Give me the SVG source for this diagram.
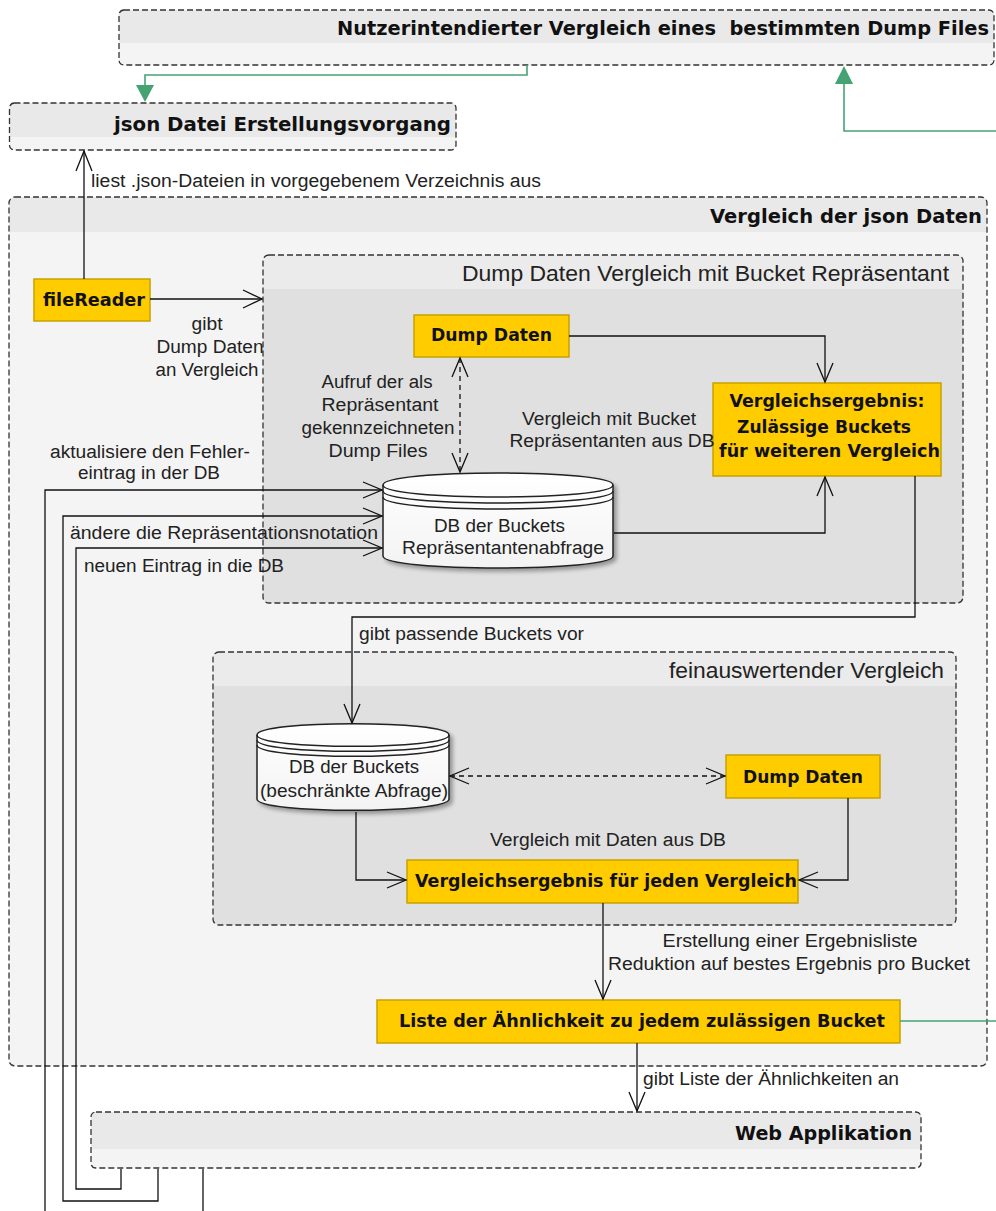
<svg xmlns="http://www.w3.org/2000/svg" width="996" height="1211" viewBox="0 0 996 1211">
<defs>
<style>
.grp{fill:none;stroke:#333;stroke-width:1.3;stroke-dasharray:6 3}
.bodyO{fill:#f4f4f4}
.bandO{fill:#e9e9e9}
.bodyI{fill:#e0e0e0}
.bandI{fill:#ebebeb}
.ttl{font-family:"DejaVu Sans",Verdana,sans-serif;font-weight:bold;font-size:19px;fill:#111}
.gt{font-family:"Liberation Sans",Arial,sans-serif;font-size:22px;fill:#222}
.yb{fill:#ffcc00;stroke:#c9a100;stroke-width:1.5}
.yt{font-family:"DejaVu Sans",Verdana,sans-serif;font-weight:bold;font-size:17.5px;fill:#111;text-anchor:middle}
.lb{font-family:"Liberation Sans",Arial,sans-serif;font-size:18px;fill:#222}
.mid{text-anchor:middle}
.ln{fill:none;stroke:#111;stroke-width:1.3}
.dash{stroke-dasharray:5 4}
.gr{fill:none;stroke:#45a373;stroke-width:1.6}
.grh{fill:#45a373}
.cyl{fill:url(#cg);stroke:#222;stroke-width:1.5}
.cl{fill:none;stroke:#222;stroke-width:1.5}
</style>
<linearGradient id="cg" x1="0" y1="0" x2="0" y2="1">
<stop offset="0" stop-color="#ffffff"/>
<stop offset="1" stop-color="#f3f3f3"/>
</linearGradient>
<filter id="sh" x="-10%" y="-10%" width="130%" height="140%">
<feGaussianBlur in="SourceAlpha" stdDeviation="2"/>
<feOffset dx="3" dy="3" result="o"/>
<feComponentTransfer><feFuncA type="linear" slope="0.35"/></feComponentTransfer>
<feMerge><feMergeNode/><feMergeNode in="SourceGraphic"/></feMerge>
</filter>
</defs>

<g id="node-nutzer">
<rect x="119" y="10" width="875" height="55" rx="5" class="bodyO"/>
<path d="M124,10 H989 Q994,10 994,15 V43 H119 V15 Q119,10 124,10 Z" class="bandO"/>
<rect x="119" y="10" width="875" height="55" rx="5" class="grp"/>
<text x="337" y="35" class="ttl" textLength="652" lengthAdjust="spacingAndGlyphs" xml:space="preserve">Nutzerintendierter Vergleich eines  bestimmten Dump Files</text>
</g>

<g id="node-json">
<rect x="9.5" y="103" width="446.5" height="47" rx="5" class="bodyO"/>
<path d="M14.5,103 H451 Q456,103 456,108 V137 H9.5 V108 Q9.5,103 14.5,103 Z" class="bandO"/>
<rect x="9.5" y="103" width="446.5" height="47" rx="5" class="grp"/>
<text x="114" y="131" class="ttl" textLength="337" lengthAdjust="spacingAndGlyphs">json Datei Erstellungsvorgang</text>
</g>

<g id="node-vergleich">
<rect x="9" y="197" width="978" height="869" rx="6" class="bodyO"/>
<path d="M15,197 H981 Q987,197 987,203 V232 H9 V203 Q9,197 15,197 Z" class="bandO"/>
<rect x="9" y="197" width="978" height="869" rx="6" class="grp"/>
<text x="710" y="223" class="ttl" textLength="272" lengthAdjust="spacingAndGlyphs">Vergleich der json Daten</text>
</g>

<g id="node-dumpvergleich">
<rect x="263" y="255" width="700" height="348" rx="6" class="bodyI"/>
<path d="M269,255 H957 Q963,255 963,261 V289 H263 V261 Q263,255 269,255 Z" class="bandI"/>
<rect x="263" y="255" width="700" height="348" rx="6" class="grp"/>
<text x="462" y="281" class="gt" textLength="487" lengthAdjust="spacingAndGlyphs">Dump Daten Vergleich mit Bucket Repräsentant</text>
</g>

<g id="node-fein">
<rect x="213" y="652" width="743" height="273" rx="6" class="bodyI"/>
<path d="M219,652 H950 Q956,652 956,658 V686 H213 V658 Q213,652 219,652 Z" class="bandI"/>
<rect x="213" y="652" width="743" height="273" rx="6" class="grp"/>
<text x="669" y="678" class="gt" textLength="275" lengthAdjust="spacingAndGlyphs">feinauswertender Vergleich</text>
</g>

<g id="node-web">
<rect x="91" y="1112" width="830" height="56" rx="5" class="bodyO"/>
<path d="M96,1112 H916 Q921,1112 921,1117 V1149 H91 V1117 Q91,1112 96,1112 Z" class="bandO"/>
<rect x="91" y="1112" width="830" height="56" rx="5" class="grp"/>
<text x="735" y="1140" class="ttl" textLength="177" lengthAdjust="spacingAndGlyphs">Web Applikation</text>
</g>

<g id="node-filereader">
<rect x="34" y="279" width="116" height="42" class="yb"/>
<text x="94" y="306" class="yt" textLength="102" lengthAdjust="spacingAndGlyphs">fileReader</text>
</g>

<g id="node-dump1">
<rect x="414" y="315" width="155" height="42" class="yb"/>
<text x="491.5" y="341" class="yt" textLength="121" lengthAdjust="spacingAndGlyphs">Dump Daten</text>
</g>

<g id="node-ergebnis1">
<rect x="713" y="383" width="228" height="93" class="yb"/>
<text x="827" y="407" class="yt" textLength="195" lengthAdjust="spacingAndGlyphs">Vergleichsergebnis:</text>
<text x="824" y="433" class="yt" textLength="174" lengthAdjust="spacingAndGlyphs">Zulässige Buckets</text>
<text x="829.5" y="457" class="yt" textLength="221" lengthAdjust="spacingAndGlyphs">für weiteren Vergleich</text>
</g>

<g id="node-db1" filter="url(#sh)">
<path d="M383,485 C383,469 613,469 613,485 V556 C613,572 383,572 383,556 Z" class="cyl"/>
<path d="M383,485 C383,501 613,501 613,485" class="cl"/>
<path d="M383,491 C383,507 613,507 613,491" class="cl"/>
<path d="M383,497 C383,513 613,513 613,497" class="cl"/>
</g>
<g id="node-db1-text">
<text x="499.5" y="532" class="lb mid" textLength="131" lengthAdjust="spacingAndGlyphs">DB der Buckets</text>
<text x="503" y="554" class="lb mid" textLength="202" lengthAdjust="spacingAndGlyphs">Repräsentantenabfrage</text>
</g>

<g id="node-db2" filter="url(#sh)">
<path d="M257,735 C257,720 449,720 449,735 V799 C449,814 257,814 257,799 Z" class="cyl"/>
<path d="M257,735 C257,750 449,750 449,735" class="cl"/>
<path d="M257,740 C257,755 449,755 449,740" class="cl"/>
<path d="M257,745 C257,760 449,760 449,745" class="cl"/>
</g>
<g id="node-db2-text">
<text x="354" y="773" class="lb mid" textLength="130" lengthAdjust="spacingAndGlyphs">DB der Buckets</text>
<text x="354" y="797" class="lb mid" textLength="188" lengthAdjust="spacingAndGlyphs">(beschränkte Abfrage)</text>
</g>

<g id="node-dump2">
<rect x="726" y="755" width="154" height="43" class="yb"/>
<text x="803" y="783" class="yt" textLength="120" lengthAdjust="spacingAndGlyphs">Dump Daten</text>
</g>

<g id="node-ergebnis2">
<rect x="407" y="860" width="391" height="43" class="yb"/>
<text x="606" y="887" class="yt" textLength="382" lengthAdjust="spacingAndGlyphs">Vergleichsergebnis für jeden Vergleich</text>
</g>

<g id="node-liste">
<rect x="377" y="1000" width="523" height="43" class="yb"/>
<text x="642" y="1027" class="yt" textLength="486" lengthAdjust="spacingAndGlyphs">Liste der Ähnlichkeit zu jedem zulässigen Bucket</text>
</g>

<g id="connectors">
<path d="M527,65 V75 H145 V86" class="gr"/>
<polygon points="136,85 154,85 145,102" class="grh"/>
<path d="M996,131 H844 V83" class="gr"/>
<polygon points="835,84 853,84 844,66" class="grh"/>
<path d="M900,1021 H996" class="gr"/>

<path d="M84,279 V151" class="ln"/>
<polyline points="76,171 84,151 92,171" class="ln"/>
<text x="91" y="187" class="lb" textLength="450" lengthAdjust="spacingAndGlyphs">liest .json-Dateien in vorgegebenem Verzeichnis aus</text>

<path d="M150,299 H262" class="ln"/>
<polyline points="243,290 262,299 243,308" class="ln"/>
<text x="207" y="330" class="lb mid" textLength="31" lengthAdjust="spacingAndGlyphs">gibt</text>
<text x="210" y="353" class="lb mid" textLength="107" lengthAdjust="spacingAndGlyphs">Dump Daten</text>
<text x="207" y="376" class="lb mid" textLength="103" lengthAdjust="spacingAndGlyphs">an Vergleich</text>

<path d="M569,336 H825 V382" class="ln"/>
<polyline points="817,363 825,382 833,363" class="ln"/>

<path d="M614,533 H825 V477" class="ln"/>
<polyline points="817,496 825,477 833,496" class="ln"/>
<text x="609" y="425" class="lb mid" textLength="174" lengthAdjust="spacingAndGlyphs">Vergleich mit Bucket</text>
<text x="612" y="447" class="lb mid" textLength="205" lengthAdjust="spacingAndGlyphs">Repräsentanten aus DB</text>

<path d="M460,358 V472" class="ln dash"/>
<polyline points="452,377 460,358 468,377" class="ln"/>
<polyline points="452,453 460,472 468,453" class="ln"/>
<text x="377" y="388" class="lb mid" textLength="111" lengthAdjust="spacingAndGlyphs">Aufruf der als</text>
<text x="380" y="411" class="lb mid" textLength="117" lengthAdjust="spacingAndGlyphs">Repräsentant</text>
<text x="378" y="434" class="lb mid" textLength="153" lengthAdjust="spacingAndGlyphs">gekennzeichneten</text>
<text x="378" y="457" class="lb mid" textLength="99" lengthAdjust="spacingAndGlyphs">Dump Files</text>

<path d="M45,1211 V490 H382" class="ln"/>
<polyline points="363,482 382,490 363,498" class="ln"/>
<path d="M158,1169 V1201 H63 V516 H382" class="ln"/>
<polyline points="363,508 382,516 363,524" class="ln"/>
<path d="M121,1169 V1189 H76 V548 H382" class="ln"/>
<polyline points="363,540 382,548 363,556" class="ln"/>
<path d="M203,1169 V1211" class="ln"/>
<text x="150" y="458" class="lb mid" textLength="200" lengthAdjust="spacingAndGlyphs">aktualisiere den Fehler-</text>
<text x="149" y="479" class="lb mid" textLength="142" lengthAdjust="spacingAndGlyphs">eintrag in der DB</text>
<text x="70" y="539" class="lb" textLength="308" lengthAdjust="spacingAndGlyphs">ändere die Repräsentationsnotation</text>
<text x="84" y="572" class="lb" textLength="200" lengthAdjust="spacingAndGlyphs">neuen Eintrag in die DB</text>

<path d="M915,476 V617 H352 V723" class="ln"/>
<polyline points="344,704 352,723 360,704" class="ln"/>
<text x="359" y="640" class="lb" textLength="225" lengthAdjust="spacingAndGlyphs">gibt passende Buckets vor</text>

<path d="M450,776 H725" class="ln dash"/>
<polyline points="469,768 450,776 469,784" class="ln"/>
<polyline points="706,768 725,776 706,784" class="ln"/>

<path d="M356,812 V880 H406" class="ln"/>
<polyline points="387,872 406,880 387,888" class="ln"/>
<path d="M848,798 V880 H799" class="ln"/>
<polyline points="818,872 799,880 818,888" class="ln"/>
<text x="608" y="846" class="lb mid" textLength="236" lengthAdjust="spacingAndGlyphs">Vergleich mit Daten aus DB</text>

<path d="M603,903 V999" class="ln"/>
<polyline points="595,980 603,999 611,980" class="ln"/>
<text x="790" y="947" class="lb mid" textLength="255" lengthAdjust="spacingAndGlyphs">Erstellung einer Ergebnisliste</text>
<text x="789" y="970" class="lb mid" textLength="362" lengthAdjust="spacingAndGlyphs">Reduktion auf bestes Ergebnis pro Bucket</text>

<path d="M637,1043 V1111" class="ln"/>
<polyline points="629,1092 637,1111 645,1092" class="ln"/>
<text x="643" y="1085" class="lb" textLength="256" lengthAdjust="spacingAndGlyphs">gibt Liste der Ähnlichkeiten an</text>
</g>
</svg>
